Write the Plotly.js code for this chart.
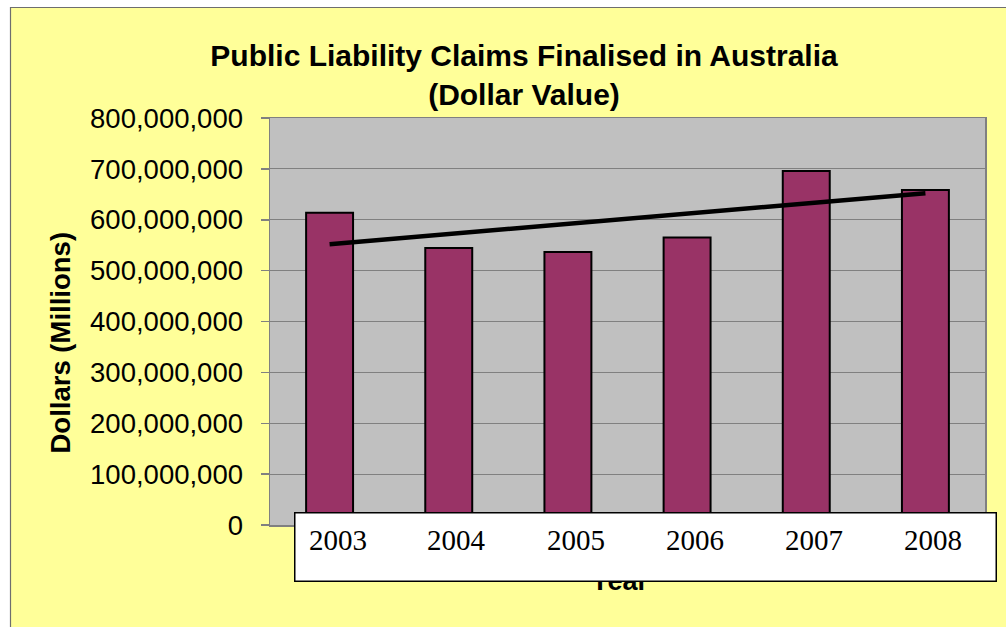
<!DOCTYPE html>
<html>
<head>
<meta charset="utf-8">
<script src="https://cdn.plot.ly/plotly-3.0.1.min.js"></script>
<style>html,body{margin:0;padding:0;background:#fff;}#chart{width:1006px;height:627px;}</style>
</head>
<body>
<div id="chart"></div>
<script>
// ---- data ----
var years = ['2003', '2004', '2005', '2006', '2007', '2008'];
var claimValues = [614000000, 544500000, 536500000, 565000000, 696000000, 658500000];
var trendYears = ['2003', '2008'];
var trendValues = [552000000, 652000000];
var yTickValues = [0, 100000000, 200000000, 300000000, 400000000, 500000000, 600000000, 700000000, 800000000];

var chartTitle = 'Public Liability Claims Finalised in Australia<br>(Dollar Value)';
var yTitle = 'Dollars (Millions)';
var xTitle = 'Year';

// ---- layout helpers (pixel -> paper) ----
var W = 1006, H = 627;
var mL = 270, mR = 21, mT = 118, mB = 102;
var pw = W - mL - mR, ph = H - mT - mB;
function px2x(px) { return (px - mL) / pw; }
function px2y(py) { return (H - mB - py) / ph; }

var traces = [
  {
    type: 'bar',
    x: years,
    y: claimValues,
    marker: { color: '#993366', line: { color: '#000000', width: 2 } },
    hoverinfo: 'x+y'
  },
  {
    type: 'scatter',
    mode: 'lines',
    x: trendYears,
    y: trendValues,
    line: { color: '#000000', width: 4.5 },
    hoverinfo: 'skip'
  }
];

var annotations = [
  {
    text: xTitle, xref: 'paper', yref: 'paper',
    x: px2x(620), y: px2y(581), xanchor: 'center', yanchor: 'middle',
    showarrow: false,
    font: { family: 'Liberation Sans, Arial, sans-serif', size: 27, color: '#000', weight: 'bold' }
  },
  {
    text: ' ', xref: 'paper', yref: 'paper',
    x: px2x(294), y: px2y(512), xanchor: 'left', yanchor: 'top',
    width: 700, height: 67, borderpad: 0,
    bgcolor: '#FFFFFF', bordercolor: '#000000', borderwidth: 1.5,
    showarrow: false
  },
  {
    text: yTitle, xref: 'paper', yref: 'paper',
    x: px2x(60), y: px2y(342.5), xanchor: 'center', yanchor: 'middle',
    textangle: -90, showarrow: false,
    font: { family: 'Liberation Sans, Arial, sans-serif', size: 27.5, color: '#000', weight: 'bold' }
  }
];
years.forEach(function (yr, i) {
  annotations.push({
    text: yr, xref: 'x', yref: 'paper',
    x: i, y: px2y(540), xanchor: 'center', yanchor: 'middle',
    xshift: 8, showarrow: false,
    font: { family: 'Liberation Serif, Times New Roman, serif', size: 29, color: '#000' }
  });
});

var shapes = [
  { type: 'rect', xref: 'paper', yref: 'paper', x0: -1, x1: px2x(10), y0: -1, y1: 2,
    fillcolor: '#FFFFFF', line: { width: 0 }, layer: 'below' },
  { type: 'rect', xref: 'paper', yref: 'paper', x0: -1, x1: 2, y0: px2y(7), y1: 2,
    fillcolor: '#FFFFFF', line: { width: 0 }, layer: 'below' },
  { type: 'line', xref: 'paper', yref: 'paper', x0: px2x(10.5), x1: px2x(10.5), y0: px2y(7), y1: -1,
    line: { color: '#6E6E6E', width: 1.2 }, layer: 'below' },
  { type: 'line', xref: 'paper', yref: 'paper', x0: px2x(10), x1: 2, y0: px2y(7.5), y1: px2y(7.5),
    line: { color: '#6E6E6E', width: 1.2 }, layer: 'below' }
];

var layout = {
  width: W, height: H,
  margin: { l: mL, r: mR, t: mT, b: mB, pad: 0 },
  paper_bgcolor: '#FFFF99',
  plot_bgcolor: '#C0C0C0',
  showlegend: false,
  bargap: 0.606,
  title: {
    text: chartTitle,
    xref: 'paper', x: px2x(524), xanchor: 'center',
    yref: 'container', y: 1 - 66 / H, yanchor: 'middle',
    font: { family: 'Liberation Sans, Arial, sans-serif', size: 30, color: '#000', weight: 'bold' }
  },
  xaxis: {
    type: 'category',
    range: [-0.5, 5.5],
    autorange: false,
    showticklabels: false,
    ticks: '',
    showgrid: false,
    showline: true, mirror: true, linecolor: '#808080', linewidth: 1.5,
    zeroline: false,
    automargin: false,
    fixedrange: true
  },
  yaxis: {
    range: [0, 800000000],
    autorange: false,
    tickvals: yTickValues,
    tickformat: ',d',
    ticks: 'outside', ticklen: 8, tickcolor: '#808080', tickwidth: 1.5,
    ticklabelstandoff: 12,
    tickfont: { family: 'Liberation Sans, Arial, sans-serif', size: 27.5, color: '#000' },
    showgrid: true, gridcolor: '#808080', gridwidth: 1.2,
    showline: true, mirror: true, linecolor: '#808080', linewidth: 1.5,
    zeroline: false,
    automargin: false,
    fixedrange: true
  },
  annotations: annotations,
  shapes: shapes
};

Plotly.newPlot('chart', traces, layout, { displayModeBar: false, staticPlot: true });
</script>
</body>
</html>
